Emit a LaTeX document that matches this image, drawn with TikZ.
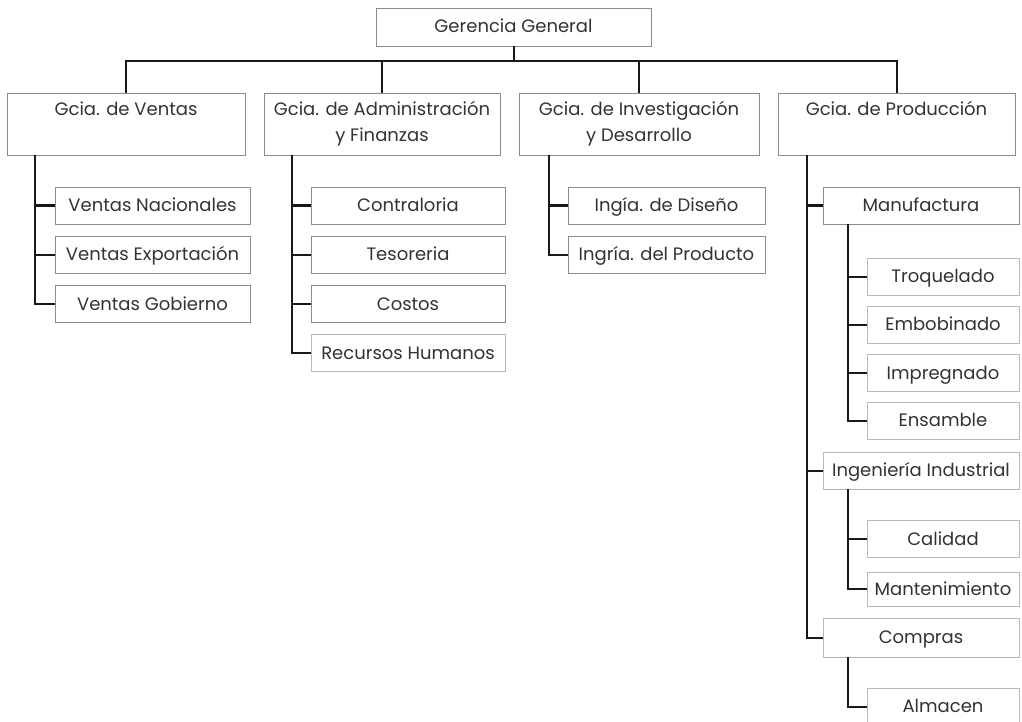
\documentclass[tikz,border=0pt]{standalone}
\usepackage{fontspec}
\setmainfont{Poppins}
\begin{document}
\begin{tikzpicture}[x=1pt,y=-1pt]
\tikzset{
  basebox/.style={draw=black!45, line width=0.7pt, inner sep=0pt,
    font=\fontsize{18}{26}\selectfont, text=black!80, align=center},
  orgbox/.style={basebox, minimum height=37pt, text height=15pt, text depth=3pt},
  headbox/.style={basebox, minimum height=62pt},
  faintbox/.style={orgbox, draw=black!28},
  link/.style={draw=black!90, line width=2pt},
}
\useasboundingbox[fill=white] (0,0) rectangle (1022,722);

% top
\node[orgbox, minimum width=275pt, minimum height=38pt] (gg) at (513.5,27) {Gerencia General};

% level 1
\node[headbox, minimum width=238pt] (v) at (126,124) {Gcia. de Ventas\\\vphantom{yF}};
\node[headbox, minimum width=236pt] (a) at (382,124) {Gcia. de Administración\\y Finanzas};
\node[headbox, minimum width=240pt] (i) at (639,124) {Gcia. de Investigación\\y Desarrollo};
\node[headbox, minimum width=237pt] (p) at (896.5,124) {Gcia. de Producción\\\vphantom{yF}};

\coordinate (bus) at (513,61);
\draw[link] (gg.south) -- (gg.south |- bus);
\draw[link] (v.north) -- (v.north |- bus) -- (p.north |- bus) -- (p.north);
\draw[link] (a.north) -- (a.north |- bus);
\draw[link] (i.north) -- (i.north |- bus);

% Ventas
\node[orgbox, minimum width=195pt] (vn) at (152.5,205.5) {Ventas Nacionales};
\node[orgbox, minimum width=195pt] (ve) at (152.5,254.5) {Ventas Exportación};
\node[orgbox, minimum width=195pt] (vg) at (152.5,304) {Ventas Gobierno};
\coordinate (vt) at ([xshift=28pt]v.south west);
\draw[link] (vt) |- (vg.west);
\draw[link] (vn.west) -- (vn.west -| vt);
\draw[link] (ve.west) -- (ve.west -| vt);

% Administracion
\node[orgbox, minimum width=194pt] (ac) at (408,205.5) {Contraloria};
\node[orgbox, minimum width=194pt] (at) at (408,254.5) {Tesoreria};
\node[orgbox, minimum width=194pt] (ak) at (408,304) {Costos};
\node[faintbox, minimum width=194pt] (ar) at (408,353) {Recursos Humanos};
\coordinate (atr) at ([xshift=28pt]a.south west);
\draw[link] (atr) |- (ar.west);
\draw[link] (ac.west) -- (ac.west -| atr);
\draw[link] (at.west) -- (at.west -| atr);
\draw[link] (ak.west) -- (ak.west -| atr);

% Investigacion
\node[orgbox, minimum width=197pt] (id) at (666.5,205.5) {Ingía. de Diseño};
\node[orgbox, minimum width=197pt] (ip) at (666.5,254.5) {Ingría. del Producto};
\coordinate (itr) at ([xshift=30pt]i.south west);
\draw[link] (itr) |- (ip.west);
\draw[link] (id.west) -- (id.west -| itr);

% Produccion
\node[orgbox, minimum width=196pt] (pm) at (921,205.5) {Manufactura};
\node[faintbox, minimum width=196pt] (pi) at (921,470.5) {Ingeniería Industrial};
\node[faintbox, minimum width=196pt, minimum height=39pt] (pc) at (921,637.5) {Compras};
\coordinate (ptr) at ([xshift=29pt]p.south west);
\draw[link] (ptr) |- (pc.west);
\draw[link] (pm.west) -- (pm.west -| ptr);
\draw[link] (pi.west) -- (pi.west -| ptr);

% Manufactura
\node[faintbox, minimum width=152pt] (mt) at (943,276.5) {Troquelado};
\node[faintbox, minimum width=152pt] (me) at (943,324.5) {Embobinado};
\node[faintbox, minimum width=152pt] (mi) at (943,373) {Impregnado};
\node[faintbox, minimum width=152pt] (ms) at (943,420.5) {Ensamble};
\coordinate (mtr) at ([xshift=25pt]pm.south west);
\draw[link] (mtr) |- (ms.west);
\draw[link] (mt.west) -- (mt.west -| mtr);
\draw[link] (me.west) -- (me.west -| mtr);
\draw[link] (mi.west) -- (mi.west -| mtr);

% Ingenieria Industrial
\node[faintbox, minimum width=152pt] (qc) at (943,539) {Calidad};
\node[faintbox, minimum width=152pt, minimum height=34pt] (qm) at (943,589) {Mantenimiento};
\coordinate (qtr) at ([xshift=25pt]pi.south west);
\draw[link] (qtr) |- (qm.west);
\draw[link] (qc.west) -- (qc.west -| qtr);

% Compras
\node[faintbox, minimum width=152pt] (ca) at (943,706.5) {Almacen};
\coordinate (ctr) at ([xshift=25pt]pc.south west);
\draw[link] (ctr) |- (ca.west);
\end{tikzpicture}
\end{document}
